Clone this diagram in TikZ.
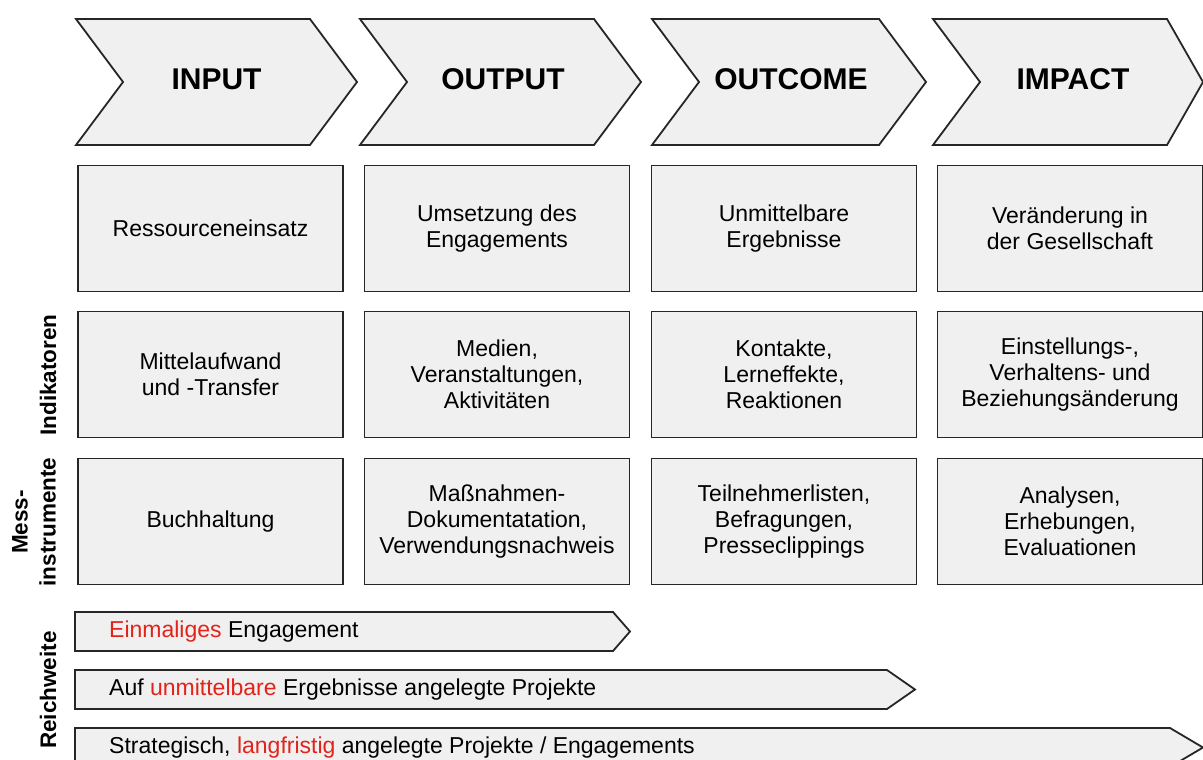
\documentclass[tikz,border=0pt]{standalone}
\usepackage{fontspec}
\setmainfont{Liberation Sans}
\definecolor{panel}{HTML}{F0F0F0}
\definecolor{edge}{HTML}{262626}
\definecolor{accent}{HTML}{E2231A}
\begin{document}
\begin{tikzpicture}[x=1pt,y=-1pt,
  shapeline/.style={draw=edge, fill=panel, line width=1.8pt, line join=miter},
  title/.style={font=\fontsize{30}{36}\selectfont\bfseries, inner sep=0pt},
  cell/.style={shapeline, minimum width=265pt, minimum height=126pt, inner sep=0pt,
    align=center, font=\fontsize{23}{26}\selectfont},
  bartext/.style={anchor=west, inner sep=0pt, font=\fontsize{23}{26}\selectfont},
  sidelabel/.style={rotate=90, inner sep=0pt, align=center,
    font=\fontsize{22.5}{28}\selectfont\bfseries}]
\useasboundingbox (0,0) rectangle (1203,760);

% phase chevrons
\draw[shapeline] (76,19) -- (310,19) -- (357,82) -- (310,145) -- (76,145) -- (123,82) -- cycle;
\draw[shapeline] (360,19) -- (594,19) -- (641,82) -- (594,145) -- (360,145) -- (407,82) -- cycle;
\draw[shapeline] (652,19) -- (879,19) -- (926,82) -- (879,145) -- (652,145) -- (699,82) -- cycle;
\draw[shapeline] (933,19) -- (1167,19) -- (1203,82) -- (1167,145) -- (933,145) -- (980,82) -- cycle;
\node[title] (tinput)   at (216.5,79) {INPUT};
\node[title] (toutput)  at (503,79)   {OUTPUT};
\node[title] (toutcome) at (791,79)   {OUTCOME};
\node[title] (timpact)  at (1073,79)  {IMPACT};

% description row
\node[cell] (d1) at (210.5,228.5) {Ressourceneinsatz};
\node[cell] (d2) at (497,228.5)   {Umsetzung des\\Engagements};
\node[cell] (d3) at (784,228.5)   {Unmittelbare\\Ergebnisse};
\node[cell] (d4) at (1070,228.5)  {Veränderung in\\der Gesellschaft};

% indicator row
\node[cell] (i1) at (210.5,374.5) {Mittelaufwand\\und -Transfer};
\node[cell] (i2) at (497,374.5)   {Medien,\\Veranstaltungen,\\Aktivitäten};
\node[cell] (i3) at (784,374.5)   {Kontakte,\\Lerneffekte,\\Reaktionen};
\node[cell] (i4) at (1070,374.5)  {Einstellungs-,\\Verhaltens- und\\Beziehungsänderung};

% measuring instruments row
\node[cell] (m1) at (210.5,521.5) {Buchhaltung};
\node[cell] (m2) at (497,521.5)   {Maßnahmen-\\Dokumentatation,\\Verwendungsnachweis};
\node[cell] (m3) at (784,521.5)   {Teilnehmerlisten,\\Befragungen,\\Presseclippings};
\node[cell] (m4) at (1070,521.5)  {Analysen,\\Erhebungen,\\Evaluationen};

% row labels
\node[sidelabel] (lind)   at (48,375)  {Indikatoren};
\node[sidelabel] (lmess)  at (34,522)  {Mess-\\instrumente};
\node[sidelabel] (lreach) at (48,690)  {Reichweite};

% reach bars
\draw[shapeline] (75,612) -- (613,612) -- (630,631.5) -- (613,651) -- (75,651) -- cycle;
\draw[shapeline] (75,670) -- (887,670) -- (915,689.5) -- (887,709) -- (75,709) -- cycle;
\draw[shapeline] (75,728) -- (1170,728) -- (1203,747.5) -- (1170,767) -- (75,767) -- cycle;
\node[bartext] (r1) at (109,631.5) {\textcolor{accent}{Einmaliges} Engagement};
\node[bartext] (r2) at (109,689.5) {Auf \textcolor{accent}{unmittelbare} Ergebnisse angelegte Projekte};
\node[bartext] (r3) at (109,747.5) {Strategisch, \textcolor{accent}{langfristig} angelegte Projekte / Engagements};
\end{tikzpicture}
\end{document}
